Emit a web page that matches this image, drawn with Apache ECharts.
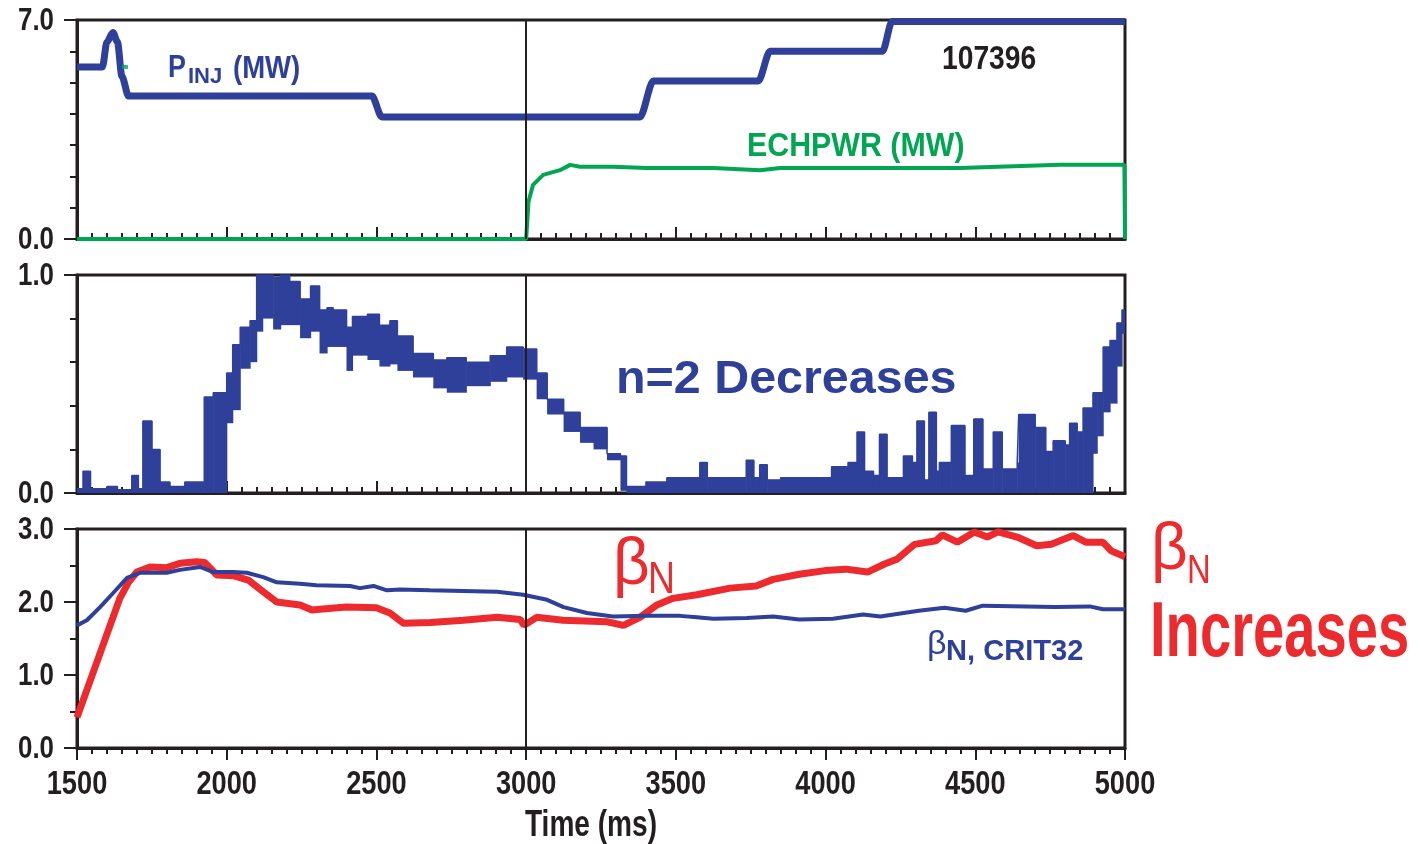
<!DOCTYPE html>
<html>
<head>
<meta charset="utf-8">
<script src="https://cdn.jsdelivr.net/npm/echarts@6.0.0/dist/echarts.min.js"></script>
<style>
  html, body { margin: 0; padding: 0; background: #fff; }
  #main { width: 1421px; height: 844px; }
</style>
</head>
<body>
<div id="main"></div>
<script>
// ---- data ----
const timeTickLabels = ['1500', '2000', '2500', '3000', '3500', '4000', '4500', '5000'];
const pinjTickLabels = ['0.0', '7.0'];
const n2TickLabels = ['0.0', '1.0'];
const betaTickLabels = ['0.0', '1.0', '2.0', '3.0'];

// injected power (MW)
const pinjT = [1500, 1585, 1600, 1620, 1635, 1650, 1672, 2485, 2518, 3380, 3425, 3775, 3815, 4190, 4222, 5000];
const pinjV = [5.5, 5.5, 6.3, 6.6, 6.3, 5.2, 4.57, 4.57, 3.9, 3.9, 5.05, 5.05, 6.0, 6.0, 6.95, 6.95];

// ECH power (MW)
const echT = [1500, 2000, 2500, 3000, 3008, 3023, 3057, 3113, 3147, 3180, 3290, 3403, 3625, 3781, 3848, 4115, 4449, 4783, 4998, 5000];
const echV = [0, 0, 0, 0, 1.2, 1.73, 2.05, 2.2, 2.37, 2.31, 2.31, 2.27, 2.27, 2.2, 2.27, 2.27, 2.27, 2.37, 2.37, 0];

// n=2 amplitude, upper / lower envelope of the noisy trace (each value holds until the next time)
const n2T = [
  1500, 1520, 1545, 1600, 1635, 1683, 1705, 1720, 1750, 1777, 1810, 1860, 1925, 1955,
  2000, 2020, 2045, 2078, 2100, 2120, 2155, 2180, 2210, 2245, 2280, 2310, 2335, 2355, 2400, 2420, 2470,
  2510, 2545, 2570, 2622, 2690, 2735, 2800, 2880, 2935, 2990, 3035, 3070, 3125, 3180, 3225, 3270, 3315,
  3335, 3400, 3470, 3580, 3605, 3735, 3760, 3780, 3805, 3850, 4020, 4075, 4105, 4130, 4160, 4180, 4205,
  4260, 4290, 4305, 4330, 4345, 4370, 4380, 4420, 4465, 4495, 4525, 4560, 4590, 4640, 4645, 4700, 4735,
  4760, 4800, 4815, 4840, 4860,
  4893, 4907, 4927, 4950, 4973, 4990, 5000
];
const n2Hi = [
  0.02, 0.10, 0.02, 0.03, 0.01, 0.08, 0.02, 0.33, 0.20, 0.05, 0.03, 0.05, 0.44, 0.46,
  0.55, 0.68, 0.76, 0.79, 1.00, 1.00, 0.99, 1.00, 0.97, 0.89, 0.95, 0.84, 0.85, 0.84, 0.76, 0.81, 0.82,
  0.77, 0.79, 0.72, 0.64, 0.61, 0.62, 0.60, 0.63, 0.67, 0.66, 0.55, 0.43, 0.37, 0.30, 0.30, 0.18, 0.17,
  0.03, 0.05, 0.07, 0.14, 0.07, 0.15, 0.07, 0.13, 0.06, 0.07, 0.12, 0.14, 0.28, 0.10, 0.08, 0.27, 0.07,
  0.17, 0.14, 0.33, 0.06, 0.37, 0.10, 0.14, 0.31, 0.08, 0.34, 0.11, 0.28, 0.11, 0.14, 0.36, 0.30, 0.19,
  0.24, 0.22, 0.32, 0.28, 0.39,
  0.46, 0.46, 0.67, 0.70, 0.78, 0.84, 0.84
];
const n2Lo = [
  0, 0, 0, 0, 0, 0, 0, 0, 0, 0, 0, 0, 0, 0,
  0.32, 0.38, 0.57, 0.60, 0.74, 0.80, 0.75, 0.77, 0.77, 0.71, 0.74, 0.64, 0.67, 0.67, 0.56, 0.63, 0.61,
  0.58, 0.59, 0.56, 0.53, 0.48, 0.46, 0.49, 0.51, 0.53, 0.52, 0.43, 0.36, 0.28, 0.23, 0.20, 0.15, 0.01,
  0, 0, 0, 0, 0, 0, 0, 0, 0, 0, 0, 0, 0, 0, 0, 0, 0,
  0, 0, 0, 0, 0, 0, 0, 0, 0, 0, 0, 0, 0, 0, 0, 0, 0,
  0, 0, 0, 0, 0,
  0.18, 0.26, 0.37, 0.41, 0.58, 0.73, 0.73
];

// beta_N
const bnT = [1500, 1643, 1672, 1700, 1744, 1800, 1844, 1900, 1927, 1967, 2022, 2072, 2122, 2167, 2245, 2285, 2311,
  2400, 2500, 2545, 2590, 2680, 2790, 2903, 2980, 2993, 3035, 3123, 3270, 3325, 3380, 3437, 3490, 3570, 3681,
  3768, 3825, 3912, 3998, 4068, 4140, 4197, 4240, 4297, 4369, 4390, 4440, 4497, 4540, 4576, 4640, 4705, 4754,
  4827, 4869, 4926, 4954, 5000];
const bnV = [0.42, 2.05, 2.27, 2.41, 2.48, 2.47, 2.53, 2.55, 2.54, 2.37, 2.36, 2.30, 2.14, 2.00, 1.96, 1.89, 1.90,
  1.93, 1.92, 1.85, 1.71, 1.72, 1.75, 1.79, 1.76, 1.68, 1.79, 1.75, 1.73, 1.68, 1.79, 1.96, 2.05, 2.10, 2.19,
  2.22, 2.31, 2.38, 2.43, 2.45, 2.41, 2.52, 2.59, 2.79, 2.84, 2.92, 2.82, 2.96, 2.89, 2.96, 2.89, 2.77, 2.79,
  2.91, 2.82, 2.82, 2.70, 2.62];

// beta_N critical
const critT = [1500, 1533, 1577, 1620, 1667, 1710, 1800, 1844, 1911, 1955, 2022, 2067, 2122, 2167, 2245, 2300,
  2412, 2445, 2490, 2535, 2579, 2679, 2790, 2903, 2990, 3070, 3125, 3203, 3290, 3403, 3514, 3570, 3625, 3737,
  3825, 3912, 4025, 4125, 4183, 4311, 4397, 4468, 4525, 4767, 4882, 4926, 5000];
const critV = [1.68, 1.75, 1.93, 2.12, 2.33, 2.40, 2.40, 2.44, 2.48, 2.41, 2.41, 2.40, 2.34, 2.27, 2.25, 2.23,
  2.22, 2.19, 2.22, 2.16, 2.17, 2.16, 2.15, 2.14, 2.10, 2.03, 1.93, 1.85, 1.80, 1.81, 1.81, 1.79, 1.77, 1.78,
  1.80, 1.76, 1.77, 1.83, 1.80, 1.88, 1.92, 1.88, 1.95, 1.93, 1.94, 1.90, 1.90];

const dotT = [1660];
const dotV = [5.5];

// ---- styling ----
const BLUE = '#2e4099';
const GREEN = '#00a651';
const RED = '#ed2b2e';
const INK = '#231f20';
const FONT = "'Liberation Sans', Arial, sans-serif";

const zip = (xs, ys) => xs.map((x, i) => [x, ys[i]]);

// segments [tStart, tEnd, lo, hi] for the n=2 band
const n2Segs = n2T.slice(0, -1).map((t, i) => [t, n2T[i + 1], n2Lo[i], n2Hi[i]]);

const myChart = echarts.init(document.getElementById('main'));

// tick labels are drawn as condensed graphic text below, so axis labels stay hidden
function xAxisFor(idx, outside) {
  return {
    type: 'value', gridIndex: idx, min: 1500, max: 5000, interval: 500,
    axisLine: { lineStyle: { color: INK, width: 3 } },
    axisTick: { inside: !outside, length: 12, lineStyle: { color: INK, width: 2 } },
    minorTick: { show: true, splitNumber: 10, length: 6, lineStyle: { color: INK, width: 2 } },
    splitLine: { show: false },
    axisLabel: { show: false }
  };
}

function yAxisFor(idx, max, interval, minorSplit) {
  return {
    type: 'value', gridIndex: idx, min: 0, max: max, interval: interval,
    axisLine: { show: true, lineStyle: { color: INK, width: 3 } },
    axisTick: { show: true, inside: false, length: 13, lineStyle: { color: INK, width: 2 } },
    minorTick: { show: true, splitNumber: minorSplit, length: 7, lineStyle: { color: INK, width: 2 } },
    splitLine: { show: false },
    axisLabel: { show: false }
  };
}

const vline = {
  silent: true, symbol: 'none', animation: false,
  label: { show: false },
  lineStyle: { color: INK, width: 2, type: 'solid' },
  data: [{ xAxis: 3000 }]
};

function txt(text, x, y, size, color, weight, sx, align) {
  return {
    type: 'text', x: x, y: y, z: 100, scaleX: sx || 1,
    style: {
      text: text, fill: color,
      font: (weight || 'bold') + ' ' + size + 'px ' + FONT,
      align: align || 'left', verticalAlign: 'middle',
      textAlign: align || 'left', textVerticalAlign: 'middle'
    }
  };
}

const gridBox = { show: true, borderColor: INK, borderWidth: 3, backgroundColor: 'transparent', containLabel: false };

const option = {
  animation: false,
  grid: [
    Object.assign({ left: 77, top: 20, width: 1048, height: 219 }, gridBox),
    Object.assign({ left: 77, top: 275, width: 1048, height: 218 }, gridBox),
    Object.assign({ left: 77, top: 529, width: 1048, height: 219 }, gridBox)
  ],
  xAxis: [xAxisFor(0, false), xAxisFor(1, false), xAxisFor(2, true)],
  yAxis: [
    yAxisFor(0, 7, 7, 7),
    yAxisFor(1, 1, 1, 5),
    yAxisFor(2, 3, 1, 2)
  ],
  series: [
    {
      name: 'ECHPWR', type: 'line', xAxisIndex: 0, yAxisIndex: 0, symbol: 'none',
      lineStyle: { color: GREEN, width: 4 }, data: zip(echT, echV), markLine: vline, z: 3
    },
    {
      name: 'PINJ', type: 'line', xAxisIndex: 0, yAxisIndex: 0, symbol: 'none',
      smooth: 0.3, smoothMonotone: 'x',
      lineStyle: { color: BLUE, width: 7 }, data: zip(pinjT, pinjV), z: 2
    },
    {
      name: 'dot', type: 'scatter', xAxisIndex: 0, yAxisIndex: 0, symbol: 'rect', symbolSize: [6, 4],
      itemStyle: { color: GREEN }, data: zip(dotT, dotV), z: 4
    },
    {
      name: 'n2band', type: 'custom', xAxisIndex: 1, yAxisIndex: 1, clip: true,
      encode: { x: [0, 1], y: [2, 3] },
      renderItem: function (params, api) {
        const top = api.coord([api.value(0), api.value(3)]);
        const bot = api.coord([api.value(1), api.value(2)]);
        const h = Math.max(bot[1] - top[1], 4);
        return {
          type: 'rect',
          shape: { x: top[0], y: bot[1] - h, width: bot[0] - top[0] + 0.6, height: h },
          style: { fill: BLUE }
        };
      },
      data: n2Segs, z: 2
    },
    {
      name: 'n2edge', type: 'line', xAxisIndex: 1, yAxisIndex: 1, symbol: 'none', step: 'end',
      lineStyle: { color: BLUE, width: 1.5 }, data: zip(n2T, n2Hi), markLine: vline, z: 3
    },
    {
      name: 'betaN', type: 'line', xAxisIndex: 2, yAxisIndex: 2, symbol: 'none',
      lineStyle: { color: RED, width: 7 }, data: zip(bnT, bnV), markLine: vline, z: 2
    },
    {
      name: 'betaNcrit', type: 'line', xAxisIndex: 2, yAxisIndex: 2, symbol: 'none',
      lineStyle: { color: BLUE, width: 4 }, data: zip(critT, critV), z: 3
    }
  ]
};

myChart.setOption(option);

// annotations
const notes = [
  txt('P', 168, 68, 32, BLUE, 'bold', 0.84),
  txt('INJ', 188, 77, 22, BLUE, 'bold', 1.0),
  txt('(MW)', 233, 69, 32, BLUE, 'bold', 0.86),
  txt('107396', 942, 60, 34, INK, 'bold', 0.83),
  txt('ECHPWR (MW)', 747, 147, 33, GREEN, 'bold', 0.92),
  txt('n=2 Decreases', 616, 380, 47, BLUE, 'bold', 1.03),
  txt('β', 613, 566, 66, RED, 'normal', 0.97),
  txt('N', 648, 581, 45, RED, 'normal', 0.83),
  txt('β', 1151, 551, 66, RED, 'normal', 0.97),
  txt('N', 1187, 572, 41, RED, 'normal', 0.8),
  txt('Increases', 1150, 634, 78, RED, 'bold', 0.72),
  txt('β', 927, 645, 34, BLUE, 'normal', 1.0),
  txt('N, CRIT32', 946, 652, 30, BLUE, 'bold', 0.97),
  txt('Time (ms)', 591, 826, 36, INK, 'bold', 0.78, 'center')
];

// tick labels placed through the axes' own scales
const tickText = [];
timeTickLabels.forEach(lab => {
  const px = myChart.convertToPixel({ xAxisIndex: 2 }, Number(lab));
  tickText.push(txt(lab, px, 785, 34, INK, 'bold', 0.8, 'center'));
});
[[0, pinjTickLabels], [1, n2TickLabels], [2, betaTickLabels]].forEach(([idx, labels]) => {
  labels.forEach(lab => {
    const py = myChart.convertToPixel({ yAxisIndex: idx }, Number(lab));
    tickText.push(txt(lab, 54, py + 1, 32, INK, 'bold', 0.81, 'right'));
  });
});

myChart.setOption({ graphic: notes.concat(tickText) });
</script>
</body>
</html>
